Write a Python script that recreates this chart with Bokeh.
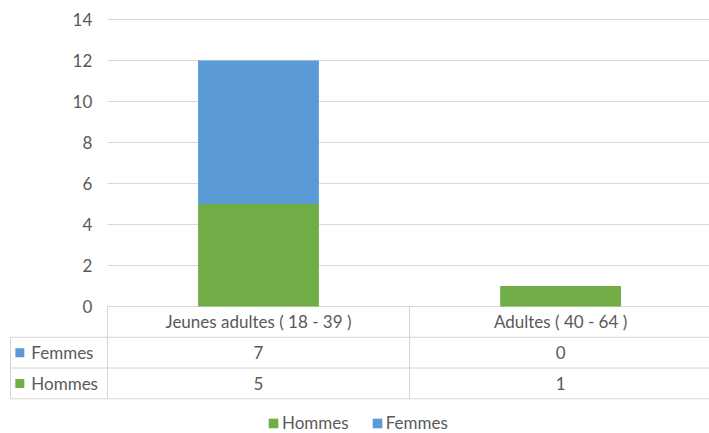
from bokeh.plotting import figure
from bokeh.models import ColumnDataSource, Range1d, Legend, LegendItem
from bokeh.core.properties import value
from bokeh.embed import file_html
from bokeh.resources import INLINE

# ---- data ----
categories = ["Jeunes adultes ( 18 - 39 )", "Adultes ( 40 - 64 )"]
hommes = [5, 1]
femmes = [7, 0]
series_names = ["Hommes", "Femmes"]
table_rows = ["Femmes", "Hommes"]
y_ticks = [0, 2, 4, 6, 8, 10, 12, 14]

# ---- style ----
GREEN = "#70AD47"
BLUE = "#5B9BD5"
TEXT = "#595959"
GRID = "#D9D9D9"
BORDER = "#D4D4D4"
FONT = "Lato"
FS = "17px"

x_idx = list(range(len(categories)))
src = ColumnDataSource(dict(x=x_idx, Hommes=hommes, Femmes=femmes))

p = figure(width=709, height=433, output_backend="svg", toolbar_location=None,
           x_range=Range1d(-0.854, 1.493), y_range=Range1d(-6.195, 14.927),
           x_axis_type=None, y_axis_type=None, min_border=0,
           outline_line_color=None)

x_left = -0.5
x_right = len(categories) - 0.5
label_left = -0.821
row_h = 1.5

# gridlines
n = len(y_ticks)
p.segment(x0=[x_left] * n, y0=y_ticks, x1=[x_right] * n, y1=y_ticks,
          line_color=GRID, line_width=1)

# y tick labels
p.text(x=[-0.55] * n, y=y_ticks, text=[str(t) for t in y_ticks],
       text_align="right", text_baseline="middle", text_font=value(FONT),
       text_font_size=FS, text_color=TEXT)

# stacked bars
rs = p.vbar_stack(series_names, x="x", width=0.4, source=src,
                  fill_color=[GREEN, BLUE], line_color=None)

# data table borders
hy = [-row_h * (k + 1) for k in range(len(table_rows) + 1)]
p.segment(x0=[label_left] * len(hy), y0=hy, x1=[x_right] * len(hy), y1=hy,
          line_color=BORDER, line_width=1)
bottom = -row_h * (len(table_rows) + 1)
vx = [x_left + k for k in range(len(categories) + 1)]
p.segment(x0=vx, y0=[0] * len(vx), x1=vx, y1=[bottom] * len(vx),
          line_color=BORDER, line_width=1)
p.segment(x0=[label_left], y0=[-row_h], x1=[label_left], y1=[bottom],
          line_color=BORDER, line_width=1)

# header (categories)
p.text(x=x_idx, y=[-row_h / 2] * len(categories), text=categories,
       text_align="center", text_baseline="middle", text_font=value(FONT),
       text_font_size=FS, text_color=TEXT)

# rows
row_vals = {"Femmes": femmes, "Hommes": hommes}
row_col = {"Femmes": BLUE, "Hommes": GREEN}
for i, name in enumerate(table_rows):
    yc = -row_h * (i + 1.5)
    vals = row_vals[name]
    p.text(x=x_idx, y=[yc] * len(vals), text=[str(v) for v in vals],
           text_align="center", text_baseline="middle", text_font=value(FONT),
           text_font_size=FS, text_color=TEXT)
    p.scatter(x=[-0.79], y=[yc], marker="square", size=9,
              fill_color=row_col[name], line_color=None)
    p.text(x=[-0.752], y=[yc], text=[name], text_align="left",
           text_baseline="middle", text_font=value(FONT),
           text_font_size=FS, text_color=TEXT)

legend = Legend(items=[LegendItem(label=name, renderers=[r])
                       for name, r in zip(series_names, rs)],
                orientation="horizontal", location=(267, 0),
                padding=0, margin=0, spacing=22, label_standoff=3,
                glyph_width=12, glyph_height=12, label_height=14,
                border_line_color=None, background_fill_alpha=0,
                label_text_font=FONT, label_text_font_size=FS,
                label_text_color=TEXT)
p.add_layout(legend)

open("out.html", "w").write(file_html(p, INLINE))
